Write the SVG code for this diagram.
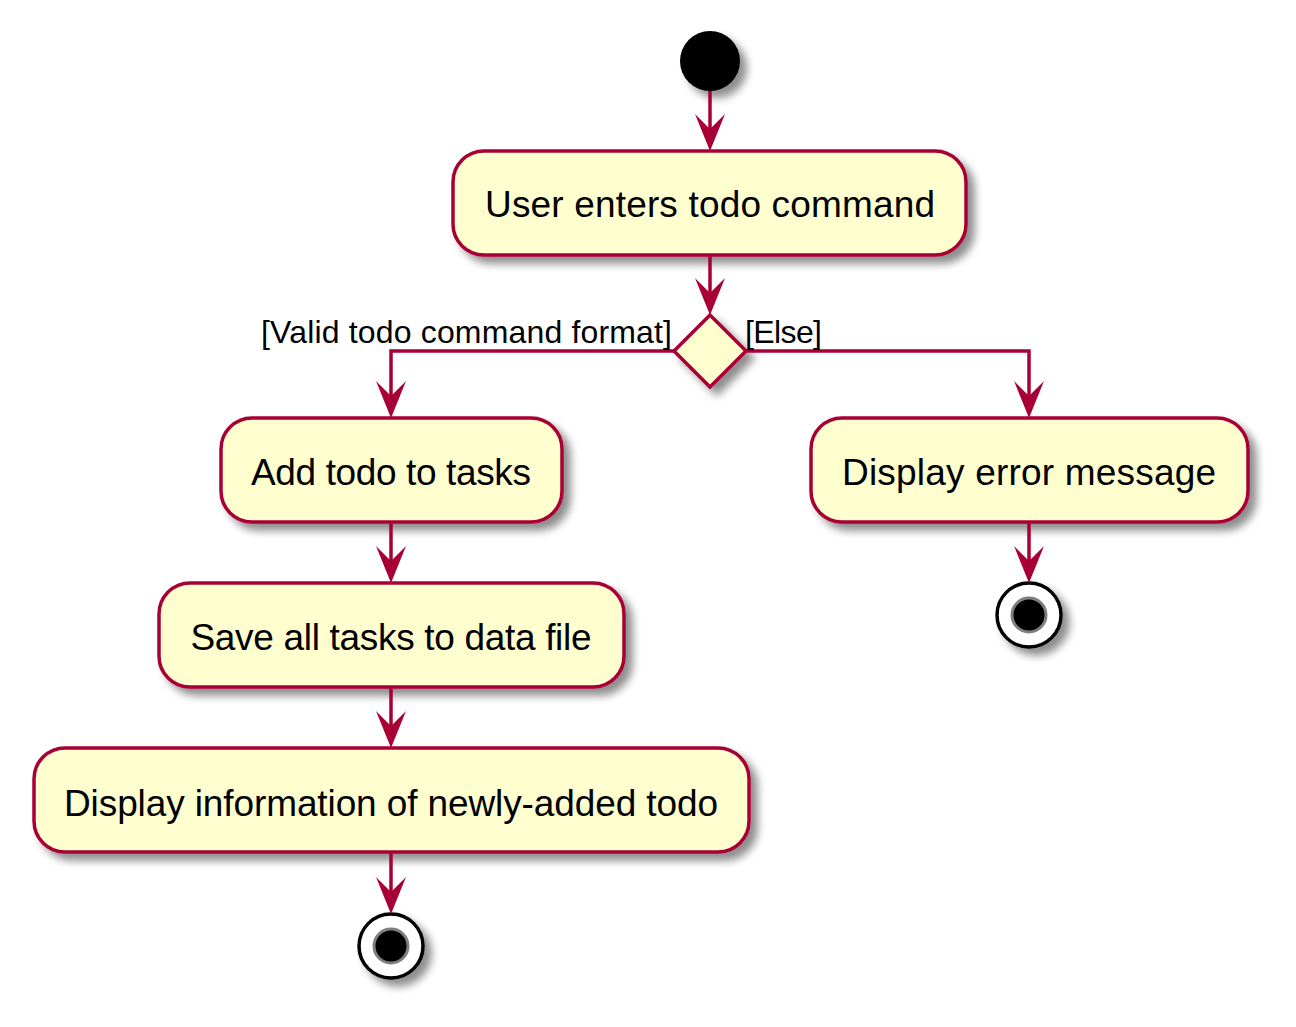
<svg xmlns="http://www.w3.org/2000/svg" width="1296" height="1027" viewBox="0 0 1296 1027">
<defs>
<filter id="sh" x="-20%" y="-20%" width="150%" height="160%">
<feGaussianBlur in="SourceAlpha" stdDeviation="4"/>
<feOffset dx="7" dy="7" result="b"/>
<feComponentTransfer in="b" result="c"><feFuncA type="linear" slope="0.45"/></feComponentTransfer>
<feMerge><feMergeNode in="c"/><feMergeNode in="SourceGraphic"/></feMerge>
</filter>
<marker id="arr" markerUnits="userSpaceOnUse" viewBox="-16 -38 32 39" refX="0" refY="0" markerWidth="32" markerHeight="39" orient="auto-start-reverse" overflow="visible">
<path d="M0,0 L-15,-37 L0,-22 L15,-37 Z" fill="#A80036" transform="rotate(-90)"/>
</marker>
</defs>
<style>
.act{fill:#FEFECE;stroke:#A80036;stroke-width:3.5;filter:url(#sh)}
.t{font-family:"Liberation Sans",Arial,sans-serif;font-size:37px;fill:#000;text-anchor:middle}
.lbl{font-family:"Liberation Sans",Arial,sans-serif;font-size:32px;fill:#000}
.c{fill:none;stroke:#A80036;stroke-width:3.5}
.ah{fill:#A80036}
</style>
<rect width="1296" height="1027" fill="#FFFFFF"/>

<g id="start">
<circle cx="710" cy="61" r="30" fill="#000" filter="url(#sh)"/>
</g>

<g id="n1">
<rect class="act" x="453" y="151" width="513" height="104" rx="31"/>
<text class="t" x="710" y="217" textLength="450" lengthAdjust="spacing">User enters todo command</text>
</g>

<g id="decision">
<polygon class="act" points="710,315 746,351 710,387 674,351"/>
</g>

<g id="n2">
<rect class="act" x="221" y="418" width="341" height="104" rx="31"/>
<text class="t" x="391" y="485" textLength="280" lengthAdjust="spacing">Add todo to tasks</text>
</g>

<g id="n3">
<rect class="act" x="811" y="418" width="437" height="104" rx="31"/>
<text class="t" x="1029" y="485" textLength="374" lengthAdjust="spacing">Display error message</text>
</g>

<g id="n4">
<rect class="act" x="159" y="583" width="465" height="104" rx="31"/>
<text class="t" x="391" y="650" textLength="401" lengthAdjust="spacing">Save all tasks to data file</text>
</g>

<g id="n5">
<rect class="act" x="34" y="748" width="715" height="104" rx="31"/>
<text class="t" x="391" y="816" textLength="654" lengthAdjust="spacing">Display information of newly-added todo</text>
</g>

<g id="end1" filter="url(#sh)">
<circle cx="391" cy="946" r="32" fill="#FFFFFF" stroke="#000" stroke-width="3.5"/>
<circle cx="391" cy="946" r="17" fill="#000" stroke="#7F7F7F" stroke-width="3"/>
</g>

<g id="end2" filter="url(#sh)">
<circle cx="1029" cy="615" r="32" fill="#FFFFFF" stroke="#000" stroke-width="3.5"/>
<circle cx="1029" cy="615" r="17" fill="#000" stroke="#7F7F7F" stroke-width="3"/>
</g>

<g id="connectors">
<path class="c" d="M710,91 L710,140"/>
<path class="ah" d="M710,151 L695,114 L710,129 L725,114 Z"/>
<path class="c" d="M710,255 L710,304"/>
<path class="ah" d="M710,315 L695,278 L710,293 L725,278 Z"/>
<path class="c" d="M674,351 L391,351 L391,406"/>
<path class="ah" d="M391,418 L376,381 L391,396 L406,381 Z"/>
<path class="c" d="M746,351 L1029,351 L1029,406"/>
<path class="ah" d="M1029,418 L1014,381 L1029,396 L1044,381 Z"/>
<path class="c" d="M391,522 L391,572"/>
<path class="ah" d="M391,583 L376,546 L391,561 L406,546 Z"/>
<path class="c" d="M391,687 L391,737"/>
<path class="ah" d="M391,748 L376,711 L391,726 L406,711 Z"/>
<path class="c" d="M391,852 L391,903"/>
<path class="ah" d="M391,914 L376,877 L391,892 L406,877 Z"/>
<path class="c" d="M1029,522 L1029,572"/>
<path class="ah" d="M1029,583 L1014,546 L1029,561 L1044,546 Z"/>
<text class="lbl" x="261" y="343" textLength="411" lengthAdjust="spacing">[Valid todo command format]</text>
<text class="lbl" x="745" y="343" textLength="77" lengthAdjust="spacing">[Else]</text>
</g>
</svg>
